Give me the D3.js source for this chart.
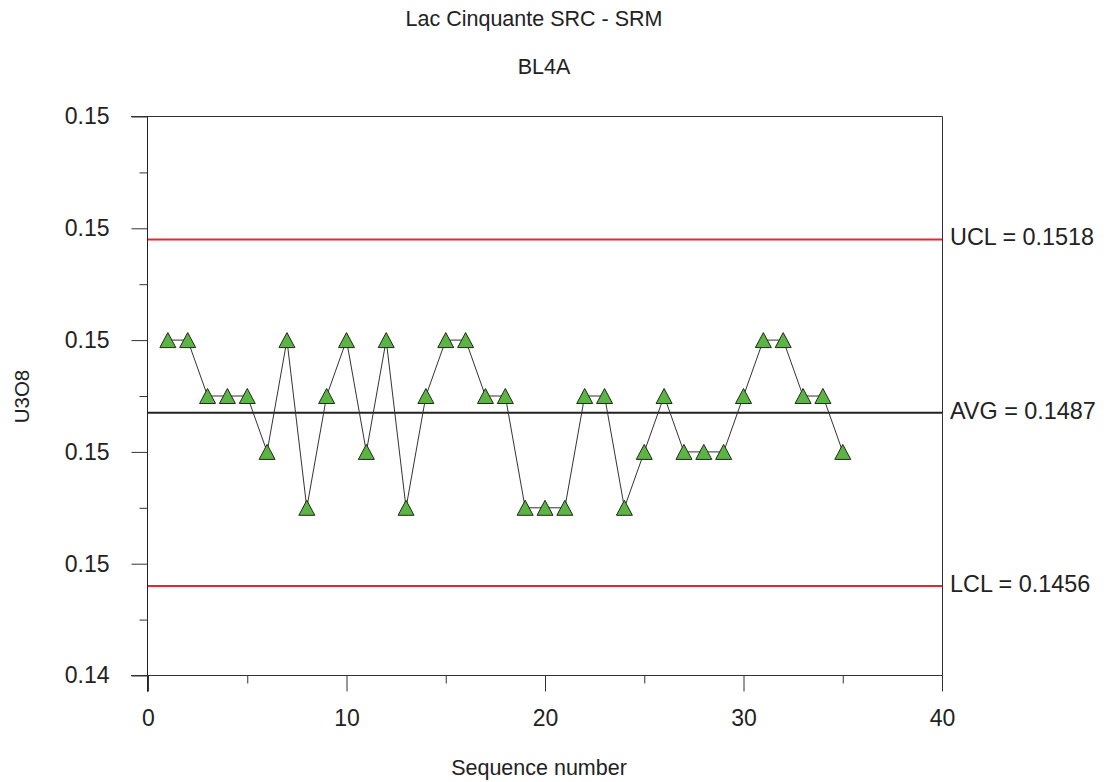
<!DOCTYPE html>
<html>
<head>
<meta charset="utf-8">
<script src="https://cdn.jsdelivr.net/npm/d3@7"></script>
<style>
  html, body { margin: 0; padding: 0; background: #fff; }
  text { font-family: "Liberation Sans", Arial, sans-serif; fill: #222; }
</style>
</head>
<body>
<svg id="chart" width="1107" height="782"></svg>
<script>
// Sample sequence and measured U3O8 values
const sequence = d3.range(1, 36);
const u3o8 = [
  0.150, 0.150, 0.149, 0.149, 0.149, 0.148, 0.150, 0.147, 0.149, 0.150,
  0.148, 0.150, 0.147, 0.149, 0.150, 0.150, 0.149, 0.149, 0.147, 0.147,
  0.147, 0.149, 0.149, 0.147, 0.148, 0.149, 0.148, 0.148, 0.148, 0.149,
  0.150, 0.150, 0.149, 0.149, 0.148
];

// Control limits
const limitNames = ["UCL", "AVG", "LCL"];
const limitValues = [0.1518, 0.1487, 0.1456];

// Axis ticks
const xTicks = [0, 10, 20, 30, 40];
const xMinorTicks = [5, 15, 25, 35];
const yTicks = [0.144, 0.146, 0.148, 0.150, 0.152, 0.154];
const yMinorTicks = [0.145, 0.147, 0.149, 0.151, 0.153];

const svg = d3.select("#chart");
const m = { left: 148, right: 942, top: 116.5, bottom: 675.5 };

const x = d3.scaleLinear().domain([0, 40]).range([m.left, m.right]);
const y = d3.scaleLinear().domain([0.144, 0.154]).range([m.bottom, m.top]);
const fmt = d3.format(".2f");
const tickFont = 23;
const titleFont = 21.5;

// Frame: top and right borders
svg.append("line").attr("x1", m.left - 17).attr("x2", m.right + 0.5)
  .attr("y1", m.top).attr("y2", m.top).attr("stroke", "#333").attr("stroke-width", 1);
svg.append("line").attr("x1", m.right + 0.5).attr("x2", m.right + 0.5)
  .attr("y1", m.top).attr("y2", m.bottom).attr("stroke", "#333").attr("stroke-width", 1);

// Y axis
const yAxis = svg.append("g").attr("transform", `translate(${m.left - 0.5},0)`)
  .call(d3.axisLeft(y).tickValues(yTicks).tickFormat(fmt).tickSize(16).tickPadding(22));
yAxis.append("g").call(d3.axisLeft(y).tickValues(yMinorTicks).tickFormat("").tickSize(8));
yAxis.selectAll(".domain").attr("stroke", "#222").attr("d", `M0,${m.top}V${m.bottom + 16}`);
yAxis.selectAll(".tick line").attr("stroke", "#333");
yAxis.selectAll(".tick text").attr("font-size", tickFont).attr("fill", "#222")
  .style("font-family", "'Liberation Sans', Arial, sans-serif");

// X axis
const xAxis = svg.append("g").attr("transform", `translate(0,${m.bottom})`)
  .call(d3.axisBottom(x).tickValues(xTicks).tickSize(16).tickPadding(18.5));
xAxis.append("g").call(d3.axisBottom(x).tickValues(xMinorTicks).tickFormat("").tickSize(8));
xAxis.selectAll(".domain").attr("stroke", "#333").attr("d", `M${m.left - 17},0H${m.right + 0.5}`);
xAxis.selectAll(".tick line").attr("stroke", "#333");
xAxis.selectAll(".tick text").attr("font-size", tickFont).attr("fill", "#222")
  .style("font-family", "'Liberation Sans', Arial, sans-serif");

// Control limit lines and labels
const limits = limitNames.map((n, i) => ({ name: n, value: limitValues[i] }));
svg.selectAll(".limit").data(limits).enter().append("line")
  .attr("x1", m.left).attr("x2", m.right)
  .attr("y1", d => y(d.value)).attr("y2", d => y(d.value))
  .attr("stroke", d => d.name === "AVG" ? "#222" : "#e8262b")
  .attr("stroke-width", 2);
svg.selectAll(".limitLabel").data(limits).enter().append("text")
  .attr("x", m.right + 8).attr("y", d => y(d.value) + 6)
  .attr("font-size", 23.4).text(d => `${d.name} = ${d.value.toFixed(4)}`);

// Series line
const pts = sequence.map((s, i) => [s, u3o8[i]]);
svg.append("path").datum(pts)
  .attr("fill", "none").attr("stroke", "#333").attr("stroke-width", 1)
  .attr("d", d3.line().x(d => x(d[0])).y(d => y(d[1])));

// Triangle markers
svg.selectAll(".pt").data(pts).enter().append("path")
  .attr("transform", d => `translate(${x(d[0])},${y(d[1])})`)
  .attr("d", "M0,-7.5L8,7.5L-8,7.5Z")
  .attr("fill", "#5cb445").attr("stroke", "#1f2a1a").attr("stroke-width", 1);

// Titles
svg.append("text").attr("x", 534).attr("y", 26).attr("text-anchor", "middle")
  .attr("font-size", titleFont).text("Lac Cinquante SRC - SRM");
svg.append("text").attr("x", 544).attr("y", 74).attr("text-anchor", "middle")
  .attr("font-size", titleFont).text("BL4A");
svg.append("text").attr("x", 539).attr("y", 775).attr("text-anchor", "middle")
  .attr("font-size", titleFont).text("Sequence number");
svg.append("text").attr("transform", "translate(29,396.5) rotate(-90)")
  .attr("text-anchor", "middle").attr("font-size", 20.5).text("U3O8");
</script>
</body>
</html>
